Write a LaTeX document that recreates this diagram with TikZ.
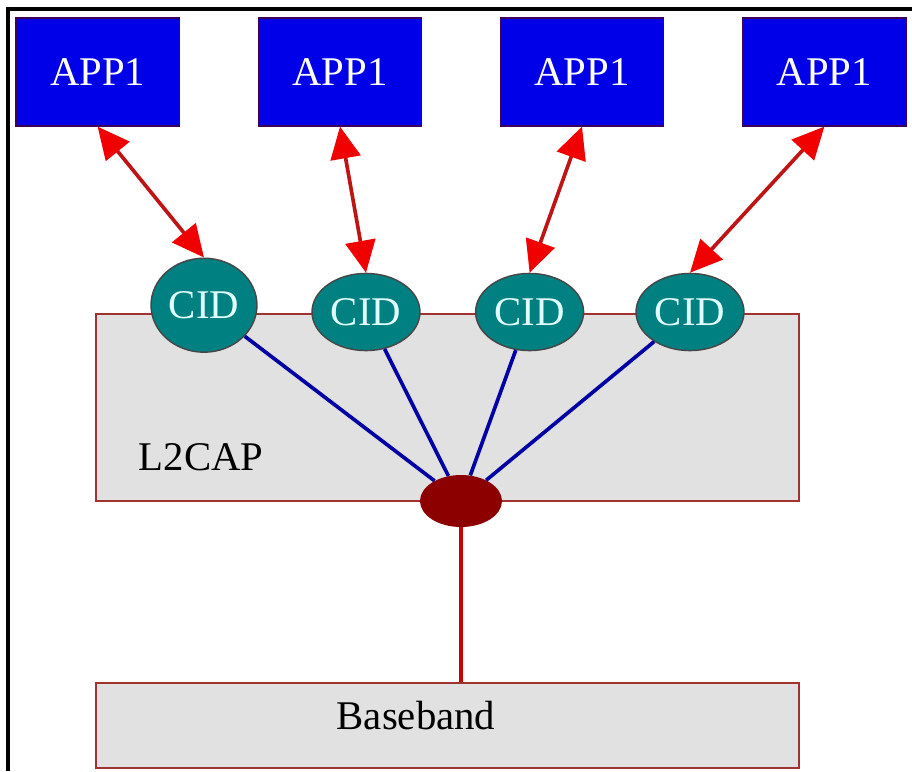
\documentclass[tikz,border=0pt]{standalone}
\usepackage{fontspec}
\setmainfont{Liberation Serif}
\usepackage{xcolor}
\usetikzlibrary{arrows.meta, shapes.geometric}

\definecolor{appblue}{RGB}{0,0,232}
\definecolor{appedge}{RGB}{60,0,90}
\definecolor{cidteal}{RGB}{0,128,128}
\definecolor{cidedge}{RGB}{70,70,70}
\definecolor{cidtext}{RGB}{225,255,255}
\definecolor{layergray}{RGB}{225,225,225}
\definecolor{layeredge}{RGB}{160,50,50}
\definecolor{hubred}{RGB}{140,0,0}
\definecolor{arrowred}{RGB}{240,0,0}
\definecolor{arrowdark}{RGB}{190,20,20}
\definecolor{linkblue}{RGB}{0,0,165}

\begin{document}
\begin{tikzpicture}[
  font=\fontsize{29}{33}\selectfont,
  app/.style={rectangle, draw=appedge, fill=appblue, text=white, line width=0.8pt,
              minimum width=4.08cm, minimum height=2.7cm},
  cid/.style={ellipse, draw=cidedge, fill=cidteal, text=cidtext, line width=1pt,
              inner sep=0pt, minimum width=2.7cm, minimum height=1.93cm},
  layer/.style={rectangle, draw=layeredge, fill=layergray, line width=1.3pt,
                minimum width=17.575cm},
  hub/.style={ellipse, fill=hubred, minimum width=2.05cm, minimum height=1.3cm},
  arr/.style={{Triangle[length=8mm,width=7.5mm,color=arrowred]}-{Triangle[length=8mm,width=7.5mm,color=arrowred]},
              line width=2.6pt, draw=arrowdark},
  link/.style={line width=2.6pt, draw=linkblue},
  feed/.style={line width=2.4pt, draw=arrowred!85!black},
  lbl/.style={inner sep=0pt}
]
\useasboundingbox (0,0) rectangle (22.8,-19.275);

% --- frame ---
\draw[line width=2.4pt] (22.8,-0.225) -- (0.2,-0.225) -- (0.2,-19.275);

% --- Layers ---
\node[layer, minimum height=4.675cm] (l2cap) at (11.19,-10.19) {};
\node[layer, minimum height=2.125cm] (bb)    at (11.19,-18.14) {};
\node[lbl] (l2caplbl) at (5.03,-11.43) {L2CAP};
\node[lbl] (bblbl)    at (10.4,-17.88) {Baseband};

% --- Nodes ---
\node[app] (app1) at (2.44, -1.8) {APP1};
\node[app] (app2) at (8.50, -1.8) {APP1};
\node[app] (app3) at (14.55,-1.8) {APP1};
\node[app] (app4) at (20.61,-1.8) {APP1};

\node[cid, minimum width=2.65cm, minimum height=2.35cm] (cid1) at (5.10,-7.63) {CID};
\node[cid] (cid2) at (9.15, -7.80) {CID};
\node[cid] (cid3) at (13.24,-7.80) {CID};
\node[cid] (cid4) at (17.25,-7.80) {CID};

\node[hub] (hub) at (11.525,-12.525) {};

% links into the multiplexer
\draw[link] (cid1) -- (hub);
\draw[link] (cid2) -- (hub);
\draw[link] (cid3) -- (hub);
\draw[link] (cid4) -- (hub);

% multiplexer down to baseband
\draw[feed] (hub.south) -- (hub.south |- bb.north);

% applications <-> channels
\draw[arr] (app1.south) -- (cid1.north);
\draw[arr] (app2.south) -- (cid2.north);
\draw[arr] (app3.south) -- (cid3.north);
\draw[arr] (app4.south) -- (cid4.north);

\end{tikzpicture}
\end{document}
